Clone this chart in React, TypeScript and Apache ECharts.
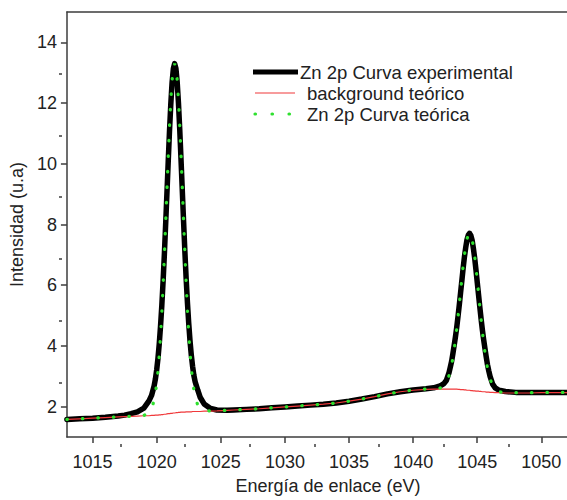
import React, { useEffect, useRef } from 'react';
import * as echarts from 'echarts';

// Binding energy grid (eV) shared by the three curves
const energy = [
  1013, 1014, 1015, 1016, 1017, 1017.5, 1018, 1018.5, 1019, 1019.4, 1019.6, 1019.8,
  1019.9, 1020.0, 1020.1, 1020.2, 1020.3, 1020.4, 1020.5, 1020.6, 1020.7, 1020.8, 1020.9,
  1021.0, 1021.1, 1021.2, 1021.3, 1021.4, 1021.5, 1021.6, 1021.7, 1021.8, 1021.9,
  1022.0, 1022.1, 1022.2, 1022.3, 1022.4, 1022.5, 1022.6, 1022.7, 1022.8, 1022.9,
  1023.0, 1023.2, 1023.4, 1023.7, 1024.2, 1024.7, 1025.5,
  1026, 1027, 1028, 1029, 1030, 1031, 1032, 1033, 1034, 1035, 1036, 1037, 1038, 1039, 1040, 1041,
  1041.6, 1042.1, 1042.4, 1042.6, 1042.8, 1042.9,
  1043.0, 1043.1, 1043.2, 1043.3, 1043.4, 1043.5, 1043.6, 1043.7, 1043.8, 1043.9,
  1044.0, 1044.1, 1044.2, 1044.3, 1044.4, 1044.5, 1044.6, 1044.7, 1044.8, 1044.9,
  1045.0, 1045.1, 1045.2, 1045.3, 1045.4, 1045.5, 1045.6, 1045.7, 1045.8, 1045.9,
  1046.0, 1046.2, 1046.4, 1046.7, 1047.2, 1048, 1049, 1050, 1051, 1052,
];

// Zn 2p Curva experimental
const experimental = [
  1.58, 1.60, 1.62, 1.65, 1.69, 1.72, 1.77, 1.83, 1.95, 2.19, 2.37, 2.68,
  2.91, 3.21, 3.59, 4.06, 4.65, 5.33, 6.13, 7.02, 8.01, 9.03, 10.07,
  11.08, 11.96, 12.67, 13.13, 13.30, 13.14, 12.69, 11.99, 11.12, 10.12,
  9.09, 8.08, 7.10, 6.21, 5.42, 4.74, 4.16, 3.70, 3.33, 3.03,
  2.82, 2.55, 2.30, 2.09, 1.94, 1.89, 1.88,
  1.89, 1.91, 1.93, 1.96, 1.99, 2.02, 2.05, 2.08, 2.12, 2.18, 2.25, 2.33, 2.42, 2.49, 2.55, 2.59,
  2.62, 2.68, 2.76, 2.87, 3.12, 3.30,
  3.49, 3.74, 4.02, 4.30, 4.61, 4.97, 5.35, 5.75, 6.15, 6.56,
  6.93, 7.24, 7.50, 7.65, 7.71, 7.64, 7.48, 7.21, 6.89, 6.51,
  6.10, 5.69, 5.28, 4.89, 4.53, 4.21, 3.92, 3.64, 3.38, 3.18,
  3.00, 2.74, 2.62, 2.54, 2.50, 2.47, 2.47, 2.47, 2.47, 2.47,
];

// background teórico
const background = [
  1.58, 1.60, 1.62, 1.64, 1.66, 1.67, 1.68, 1.69, 1.70, 1.70, 1.71, 1.71,
  1.72, 1.72, 1.72, 1.73, 1.73, 1.74, 1.74, 1.75, 1.75, 1.76, 1.77,
  1.77, 1.78, 1.78, 1.79, 1.79, 1.80, 1.80, 1.81, 1.81, 1.82,
  1.82, 1.82, 1.82, 1.83, 1.83, 1.83, 1.83, 1.83, 1.84, 1.84,
  1.84, 1.84, 1.84, 1.85, 1.85, 1.86, 1.88,
  1.89, 1.91, 1.93, 1.96, 1.99, 2.02, 2.05, 2.08, 2.12, 2.18, 2.25, 2.33, 2.42, 2.49, 2.54, 2.57,
  2.58, 2.58, 2.58, 2.58, 2.58, 2.58,
  2.58, 2.58, 2.58, 2.58, 2.58, 2.57, 2.57, 2.56, 2.56, 2.56,
  2.55, 2.55, 2.54, 2.54, 2.54, 2.53, 2.53, 2.52, 2.52, 2.51,
  2.51, 2.51, 2.50, 2.50, 2.49, 2.49, 2.49, 2.48, 2.48, 2.48,
  2.47, 2.47, 2.46, 2.46, 2.45, 2.45, 2.45, 2.46, 2.46, 2.46,
];

// Zn 2p Curva teórica
const fitted = [
  1.58, 1.60, 1.62, 1.64, 1.66, 1.67, 1.68, 1.69, 1.71, 1.79, 1.92, 2.21,
  2.44, 2.75, 3.16, 3.68, 4.33, 5.09, 5.99, 6.98, 8.05, 9.14, 10.22,
  11.22, 12.07, 12.74, 13.15, 13.30, 13.16, 12.76, 12.10, 11.26, 10.27,
  9.20, 8.12, 7.06, 6.07, 5.18, 4.42, 3.78, 3.27, 2.87, 2.56,
  2.33, 2.05, 1.92, 1.87, 1.86, 1.87, 1.88,
  1.89, 1.91, 1.93, 1.96, 1.99, 2.02, 2.05, 2.08, 2.12, 2.18, 2.25, 2.33, 2.42, 2.49, 2.55, 2.58,
  2.59, 2.61, 2.69, 2.81, 3.02, 3.18,
  3.37, 3.60, 3.88, 4.20, 4.56, 4.95, 5.37, 5.79, 6.22, 6.63,
  6.98, 7.29, 7.52, 7.66, 7.71, 7.65, 7.51, 7.26, 6.95, 6.58,
  6.17, 5.74, 5.30, 4.88, 4.47, 4.11, 3.79, 3.50, 3.27, 3.08,
  2.91, 2.70, 2.57, 2.49, 2.46, 2.46, 2.46, 2.47, 2.47, 2.47,
];

const xTickValues = [1015, 1020, 1025, 1030, 1035, 1040, 1045, 1050];
const xMinorTicks = [1017.5, 1022.5, 1027.5, 1032.5, 1037.5, 1042.5, 1047.5];
const yTickValues = [2, 4, 6, 8, 10, 12, 14];
const yMinorTicks = [3, 5, 7, 9, 11, 13];

const seriesNames = ['Zn 2p Curva experimental', 'background teórico', 'Zn 2p Curva teórica'];
const xTitle = 'Energía de enlace (eV)';
const yTitle = 'Intensidad (u.a)';

const FONT = '"Liberation Sans", Arial, Helvetica, sans-serif';
const AXIS_COLOR = '#3c3c3c';
const TEXT_COLOR = '#222';
const RED = '#f0393b';
const GREEN = '#2fe02f';

const X_MIN = 1013;
const X_MAX = 1052;
const Y_MIN = 1;
const Y_MAX = 15;

export default function App() {
  const ref = useRef<HTMLDivElement>(null);

  useEffect(() => {
    if (!ref.current) return;
    const chart = echarts.init(ref.current, undefined, { renderer: 'svg' });

    const pairs = (ys: number[]) => energy.map((e, i) => [e, ys[i]]);
    const gridBox = { left: 62, right: 0, top: 12, bottom: 56 };
    const axisLineStyle = { color: AXIS_COLOR, width: 1.5 };
    const plain = (v: number) => String(v);
    const legendText = { fontSize: 18.5, fontFamily: FONT, fill: TEXT_COLOR, verticalAlign: 'middle' };

    const option: any = {
      animation: false,
      grid: [gridBox, gridBox],
      xAxis: [
        {
          type: 'value', gridIndex: 0, position: 'bottom', min: X_MIN, max: X_MAX,
          axisLine: { show: true, onZero: false, lineStyle: axisLineStyle },
          axisTick: { show: true, customValues: xTickValues, length: 6, lineStyle: axisLineStyle },
          axisLabel: {
            customValues: xTickValues, formatter: plain, margin: 16,
            fontSize: 18, color: TEXT_COLOR, fontFamily: FONT,
          },
          splitLine: { show: false },
          name: xTitle, nameLocation: 'middle', nameGap: 40,
          nameTextStyle: { fontSize: 18, color: TEXT_COLOR, fontFamily: FONT, padding: [0, 0, 0, 22] },
        },
        {
          type: 'value', gridIndex: 0, position: 'top', min: X_MIN, max: X_MAX,
          axisLine: { show: true, onZero: false, lineStyle: axisLineStyle },
          axisTick: { show: false }, axisLabel: { show: false }, splitLine: { show: false },
        },
        {
          type: 'value', gridIndex: 1, position: 'bottom', min: X_MIN, max: X_MAX,
          axisLine: { show: false, onZero: false },
          axisTick: { show: true, customValues: xMinorTicks, length: 3, lineStyle: axisLineStyle },
          axisLabel: { show: false }, splitLine: { show: false },
        },
      ],
      yAxis: [
        {
          type: 'value', gridIndex: 0, position: 'left', min: Y_MIN, max: Y_MAX,
          axisLine: { show: true, onZero: false, lineStyle: axisLineStyle },
          axisTick: { show: true, customValues: yTickValues, length: 6, lineStyle: axisLineStyle },
          axisLabel: {
            customValues: yTickValues, formatter: plain, margin: 10,
            fontSize: 18, color: TEXT_COLOR, fontFamily: FONT,
          },
          splitLine: { show: false },
          name: yTitle, nameLocation: 'middle', nameGap: 35,
          nameTextStyle: { fontSize: 18, color: TEXT_COLOR, fontFamily: FONT },
        },
        {
          type: 'value', gridIndex: 1, position: 'left', min: Y_MIN, max: Y_MAX,
          axisLine: { show: false, onZero: false },
          axisTick: { show: true, customValues: yMinorTicks, length: 3, lineStyle: axisLineStyle },
          axisLabel: { show: false }, splitLine: { show: false },
        },
      ],
      series: [
        {
          name: seriesNames[0], type: 'line', xAxisIndex: 0, yAxisIndex: 0,
          data: pairs(experimental), showSymbol: false, symbol: 'none',
          lineStyle: { color: '#000', width: 5.5, join: 'round', cap: 'round' },
        },
        {
          name: seriesNames[1], type: 'line', xAxisIndex: 0, yAxisIndex: 0,
          data: pairs(background), showSymbol: false, symbol: 'none',
          lineStyle: { color: RED, width: 1.2 },
        },
        {
          name: seriesNames[2], type: 'line', xAxisIndex: 0, yAxisIndex: 0,
          data: pairs(fitted), showSymbol: false, symbol: 'none',
          lineStyle: { color: GREEN, width: 3.2, type: [0.5, 15], cap: 'round' },
        },
      ],
      graphic: [
        { type: 'line', shape: { x1: 253, y1: 72, x2: 298, y2: 72 }, style: { stroke: '#000', lineWidth: 5 } },
        { type: 'text', x: 300, y: 72, style: { ...legendText, text: seriesNames[0] } },
        { type: 'line', shape: { x1: 255, y1: 93, x2: 295, y2: 93 }, style: { stroke: RED, lineWidth: 1.2 } },
        { type: 'text', x: 307, y: 93, style: { ...legendText, text: seriesNames[1] } },
        {
          type: 'line', shape: { x1: 255, y1: 114, x2: 292, y2: 114 },
          style: { stroke: GREEN, lineWidth: 3.2, lineDash: [0.5, 16.5], lineCap: 'round' },
        },
        { type: 'text', x: 307, y: 114, style: { ...legendText, text: seriesNames[2] } },
      ],
    };

    chart.setOption(option);
    return () => chart.dispose();
  }, []);

  return <div ref={ref} style={{ position: 'absolute', left: 0, top: 0, width: 567, height: 500 }} />;
}
